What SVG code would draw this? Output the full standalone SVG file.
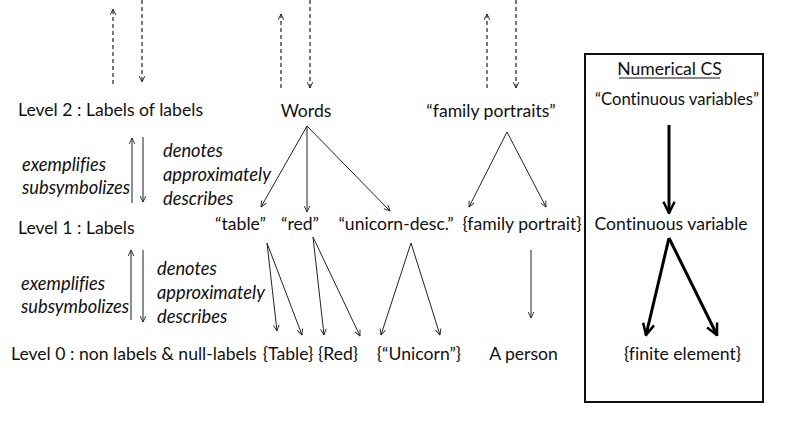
<svg xmlns="http://www.w3.org/2000/svg" width="800" height="423" viewBox="0 0 800 423">
<defs>
<style>
.t{font-family:Lato,"Liberation Sans",sans-serif;font-size:17.6px;fill:#111;font-variant-ligatures:none}
.m{text-anchor:middle}
.i{font-family:Lato,"Liberation Sans",sans-serif;font-size:18.3px;font-style:italic;fill:#111;font-variant-ligatures:none}
.ln{stroke:#222;stroke-width:1;fill:none;marker-end:url(#ah)}
.ds{stroke:#222;stroke-width:1.2;fill:none;stroke-dasharray:4 3;marker-end:url(#ah)}
.gr{stroke:#444;stroke-width:1.2;fill:none;marker-end:url(#ah)}
.tk{stroke:#000;stroke-width:3;fill:none;marker-end:url(#th)}
</style>
<marker id="ah" viewBox="0 0 10 10" refX="9.5" refY="5" markerWidth="7" markerHeight="7" markerUnits="userSpaceOnUse" orient="auto">
<path d="M1,1 L9.5,5 L1,9" fill="none" stroke="#222" stroke-width="1.3"/>
</marker>
<marker id="th" viewBox="0 0 10 10" refX="9" refY="5" markerWidth="14" markerHeight="14" markerUnits="userSpaceOnUse" orient="auto">
<path d="M1,1 L9,5 L1,9" fill="none" stroke="#000" stroke-width="1.8"/>
</marker>
</defs>
<rect width="800" height="423" fill="#fff"/>

<g id="connectors">
<line class="ds" x1="113" y1="84" x2="113" y2="9"/>
<line class="ds" x1="142" y1="0" x2="142" y2="82"/>
<line class="ds" x1="281" y1="88" x2="281" y2="14"/>
<line class="ds" x1="310" y1="0" x2="310" y2="88"/>
<line class="ds" x1="487" y1="88" x2="487" y2="14"/>
<line class="ds" x1="516" y1="0" x2="516" y2="88"/>

<line class="gr" x1="132" y1="203" x2="132" y2="138"/>
<line class="gr" x1="143" y1="137" x2="143" y2="202"/>
<line class="gr" x1="131" y1="320" x2="131" y2="250"/>
<line class="gr" x1="143" y1="250" x2="143" y2="322"/>

<line class="ln" x1="307" y1="126" x2="261" y2="207"/>
<line class="ln" x1="307" y1="126" x2="307" y2="212"/>
<line class="ln" x1="307" y1="126" x2="390" y2="211"/>
<line class="ln" x1="507" y1="132" x2="469" y2="207"/>
<line class="ln" x1="507" y1="132" x2="546" y2="207"/>

<line class="ln" x1="267" y1="243" x2="277" y2="331"/>
<line class="ln" x1="267" y1="243" x2="302" y2="335"/>
<line class="ln" x1="313" y1="237" x2="324" y2="335"/>
<line class="ln" x1="313" y1="237" x2="360" y2="336"/>
<line class="ln" x1="411" y1="243" x2="381" y2="335"/>
<line class="ln" x1="411" y1="243" x2="440" y2="335"/>
<line class="ln" x1="531" y1="250" x2="531" y2="318"/>

<line class="tk" x1="669" y1="125" x2="669" y2="213"/>
<line class="tk" x1="669" y1="238" x2="646" y2="335"/>
<line class="tk" x1="669" y1="238" x2="717" y2="335"/>
</g>

<g id="level2">
<text class="t" x="18" y="116">Level 2 : Labels of labels</text>
</g>
<g id="words"><text class="t m" x="306" y="117">Words</text></g>
<g id="family-portraits"><text class="t m" x="491" y="117">“family portraits”</text></g>

<g id="rel1">
<text class="i" x="22" y="171">exemplifies</text>
<text class="i" x="22" y="194">subsymbolizes</text>
<text class="i" x="163" y="157">denotes</text>
<text class="i" x="163" y="181">approximately</text>
<text class="i" x="163" y="205">describes</text>
</g>

<g id="level1"><text class="t" x="18" y="234">Level 1 : Labels</text></g>
<g id="table"><text class="t m" x="240.5" y="230">“table”</text></g>
<g id="red"><text class="t m" x="300" y="230">“red”</text></g>
<g id="unicorn-desc"><text class="t m" x="396" y="230">“unicorn-desc.”</text></g>
<g id="family-portrait"><text class="t m" x="522" y="230">{family portrait}</text></g>

<g id="rel0">
<text class="i" x="21" y="290">exemplifies</text>
<text class="i" x="21" y="313">subsymbolizes</text>
<text class="i" x="157" y="275">denotes</text>
<text class="i" x="157" y="299">approximately</text>
<text class="i" x="157" y="323">describes</text>
</g>

<g id="level0"><text class="t" x="11" y="360">Level 0 : non labels &amp; null-labels</text></g>
<g id="Table"><text class="t m" x="288" y="360">{Table}</text></g>
<g id="Red"><text class="t m" x="338" y="360">{Red}</text></g>
<g id="Unicorn"><text class="t m" x="419" y="360">{“Unicorn”}</text></g>
<g id="person"><text class="t m" x="523.5" y="360">A person</text></g>

<g id="numerical-cs">
<rect x="585" y="54" width="178" height="348" fill="none" stroke="#111" stroke-width="2"/>
<text class="t m" x="669.5" y="75">Numerical CS</text>
<line x1="619" y1="78" x2="720" y2="78" stroke="#111" stroke-width="1"/>
</g>
<g id="continuous-variables"><text class="t m" x="677" y="105" textLength="164" lengthAdjust="spacingAndGlyphs">“Continuous variables”</text></g>
<g id="continuous-variable"><text class="t m" x="671" y="230">Continuous variable</text></g>
<g id="finite-element"><text class="t m" x="682.5" y="360">{finite element}</text></g>
</svg>
